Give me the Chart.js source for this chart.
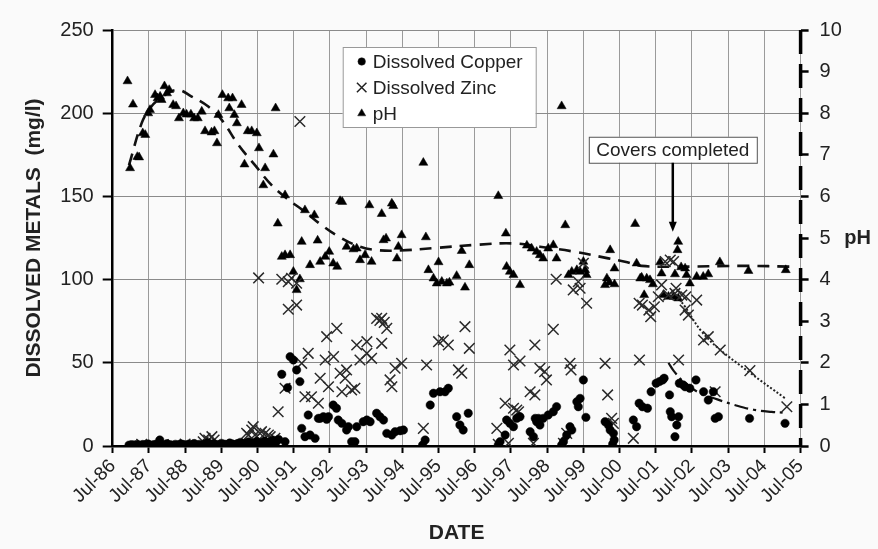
<!DOCTYPE html>
<html>
<head>
<meta charset="utf-8">
<script src="https://cdn.jsdelivr.net/npm/chart.js@4.4.1/dist/chart.umd.min.js"></script>
<style>
body { margin: 0; background: #fafafa; }
#wrap { width: 878px; height: 549px; }
</style>
</head>
<body>
<div id="wrap"><canvas id="metals"></canvas></div>
<script>
const tickLabels = ['Jul-86','Jul-87','Jul-88','Jul-89','Jul-90','Jul-91','Jul-92','Jul-93','Jul-94','Jul-95',
    'Jul-96','Jul-97','Jul-98','Jul-99','Jul-00','Jul-01','Jul-02','Jul-03','Jul-04','Jul-05'];

// dissolved copper (mg/l)
const copperYears = [1986.95,1987.02,1987.1,1987.18,1987.25,1987.33,1987.4,1987.48,1987.55,1987.63,1987.7,1987.8,1987.85,1987.93,
    1988.0,1988.08,1988.15,1988.23,1988.3,1988.38,1988.45,1988.53,1988.6,1988.68,1988.75,1988.83,1988.9,1988.98,
    1989.05,1989.13,1989.2,1989.28,1989.35,1989.43,1989.5,1989.58,1989.65,1989.73,1989.8,1989.88,1989.95,
    1990.03,1990.1,1990.18,1990.25,1990.33,1990.4,1990.48,1990.55,1990.63,1990.7,1990.78,1990.85,1990.93,1991.0,1991.08,
    1991.17,1991.26,1991.33,1991.4,1991.49,1991.58,1991.67,1991.72,1991.81,1991.9,1991.95,1992.09,1992.18,1992.23,1992.32,
    1992.41,1992.46,1992.59,1992.68,1992.73,1992.83,1992.96,1993.01,1993.1,1993.19,1993.24,1993.42,1993.52,1993.61,1993.79,
    1993.88,1993.98,1994.07,1994.21,1994.3,1994.44,1994.53,1995.06,1995.13,1995.27,1995.36,1995.54,1995.68,1995.77,
    1996.0,1996.09,1996.18,1996.32,1997.15,1997.2,1997.34,1997.38,1997.47,1997.57,1997.66,1997.75,
    1998.03,1998.12,1998.17,1998.21,1998.26,1998.3,1998.39,1998.53,1998.67,1998.76,1998.9,1998.95,1999.04,1999.13,1999.18,
    1999.32,1999.36,1999.41,1999.5,1999.57,2000.1,2000.19,2000.24,2000.31,2000.33,2000.35,2000.88,2000.97,
    2001.04,2001.13,2001.27,2001.37,2001.51,2001.6,2001.69,2001.73,2001.88,2001.9,2001.94,2002.03,2002.08,2002.13,
    2002.15,2002.26,2002.31,2002.44,2002.61,2002.82,2002.95,2003.09,2003.14,2003.23,2004.09,2005.07];
const copperValues = [0.5,0.8,0.6,1.0,0.4,0.9,0.7,1.2,0.5,0.8,1.1,3.6,1.0,0.6,
    1.4,0.8,0.5,1.0,0.7,1.3,0.9,0.6,1.1,0.8,1.5,0.7,1.0,0.5,
    1.2,2.0,0.8,1.4,1.0,0.7,1.6,1.1,0.9,1.8,1.3,0.8,1.5,
    2.2,1.0,1.7,2.5,1.2,1.9,2.8,1.5,2.1,3.0,1.6,2.4,3.5,2.0,4.0,
    43.1,2.6,35.0,53.7,51.7,45.7,38.7,10.6,5.6,18.6,6.6,4.6,16.6,16.6,17.6,
    16.0,17.6,24.6,22.7,15.6,13.6,9.6,11.6,2.6,2.6,11.6,14.6,15.6,14.6,19.7,
    17.6,15.6,7.6,6.6,8.6,9.2,9.6,0.6,3.6,24.6,31.7,32.6,32.6,34.7,
    17.6,12.6,9.6,19.7,0.6,2.6,6.6,15.6,13.6,11.6,16.6,17.6,
    8.6,5.6,16.6,14.6,16.6,12.6,16.6,18.6,20.6,23.6,0.6,2.6,6.6,11.6,9.6,
    26.6,23.6,28.6,39.7,17.2,14.6,12.6,9.6,1.2,7.6,3.6,15.6,11.6,
    25.7,23.6,22.7,32.6,37.7,38.7,39.7,40.7,30.7,20.6,17.6,5.6,12.6,17.6,
    37.7,36.7,35.6,34.7,39.7,32.6,27.6,32.6,16.6,17.6,16.6,13.6];

// dissolved zinc (mg/l)
const zincYears = [1987.3,1987.9,1988.5,1989.0,1989.05,1989.15,1989.24,1989.3,1990.2,1990.25,1990.34,1990.38,1990.43,1990.57,
    1990.61,1990.71,1990.8,1990.85,1990.98,1991.07,1991.26,1990.53,1991.17,1991.35,1991.44,1991.58,1991.35,1991.58,1991.67,
    1991.72,1991.9,1991.81,1991.99,1992.18,1992.23,1992.46,1992.41,1992.69,1992.37,1992.6,1992.78,1992.96,1992.92,1992.83,
    1993.1,1993.19,1993.24,1993.52,1993.33,1993.52,1993.65,1993.79,1993.88,1993.93,1994.0,1994.07,1993.93,1994.16,1994.3,
    1994.48,1994.21,1995.08,1995.17,1995.5,1995.63,1995.77,1996.05,1996.14,1996.23,1996.35,1997.11,1997.15,1997.34,1997.43,
    1997.47,1997.57,1997.57,1997.66,1997.71,1997.75,1998.03,1998.12,1998.16,1998.16,1998.3,1998.43,1998.48,1998.67,1998.75,
    1998.95,1999.04,1999.13,1999.16,1999.22,1999.36,1999.41,1999.5,1999.59,2000.1,2000.17,2000.28,2000.33,2000.88,
    2001.04,2001.05,2001.13,2001.31,2001.36,2001.46,2001.57,2001.66,2001.76,2001.85,2001.9,2001.99,2002.03,2002.06,2002.13,
    2002.22,2002.31,2002.4,2002.33,2002.63,2002.82,2002.95,2003.14,2003.28,2004.1,2005.12];
const zincValues = [1.0,0.8,1.2,2.5,4.6,3.6,5.6,3.6,7.6,6.6,9.6,11.6,6.6,7.6,
    8.6,7.6,6.6,5.6,4.6,20.6,34.7,101,100.2,98.7,100.8,97.8,82.2,84.7,195,
    49.7,55.7,29.6,29.6,25.7,40.7,35.6,65.7,70.7,51.7,53.7,43.7,45.7,40.7,32.6,
    33.7,34.7,60.7,62.7,51.7,55.7,52.7,76.7,75.5,76.7,74.3,70.7,61.7,39.7,46.7,
    49.7,35.6,10.6,48.7,62.7,63.7,60.7,45.7,43.7,71.7,58.7,10.6,1.0,25.7,1.6,
    57.7,48.7,22.7,21.6,20.6,51.1,32.6,1.6,30.7,60.7,46.7,44.7,39.7,70.1,100.2,
    1.6,7.6,49.7,45.7,93.8,98.7,94.8,109.8,85.8,49.7,30.7,16.6,13.6,4.6,
    85.8,51.7,84.7,81.7,77.7,83.7,89.7,96.8,110.8,90.7,111.8,110.8,91.7,94.8,51.7,
    90.7,81.7,78.7,89.7,87.7,63.7,65.7,32.6,57.7,45.3,23.6];

// pH (right axis)
const phYears = [1986.91,1986.98,1987.06,1987.18,1987.23,1987.33,1987.4,1987.48,1987.53,1987.67,1987.74,1987.81,1987.85,1987.93,
    1988.0,1988.06,1988.17,1988.25,1988.33,1988.45,1988.54,1988.66,1988.75,1988.85,1988.96,1989.05,1989.23,1989.31,1989.38,
    1989.42,1989.53,1989.69,1989.72,1989.81,1989.86,1989.93,1990.06,1990.14,1990.23,1990.34,1990.48,1990.54,1990.66,1990.71,
    1990.94,1991.0,1991.06,1991.17,1991.26,1991.26,1991.4,1991.49,1991.58,1991.67,1991.72,1991.81,1991.95,1992.07,1992.16,
    1992.23,1992.37,1992.48,1992.59,1992.7,1992.78,1992.84,1992.96,1993.15,1993.24,1993.33,1993.47,1993.59,1993.65,1993.93,
    1993.98,1994.05,1994.21,1994.25,1994.35,1994.39,1994.48,1995.08,1995.15,1995.22,1995.36,1995.45,1995.5,1995.59,1995.73,
    1995.8,1996.0,1996.14,1996.23,1996.35,1997.15,1997.36,1997.38,1997.47,1997.57,1997.75,1997.94,1998.07,1998.21,1998.3,
    1998.39,1998.53,1998.67,1998.76,1998.9,1999.0,1999.09,1999.18,1999.32,1999.41,1999.5,1999.55,1999.59,2000.1,2000.15,
    2000.22,2000.24,2000.36,2000.36,2000.93,2000.97,2001.07,2001.11,2001.18,2001.25,2001.34,2001.42,2001.62,2001.66,2001.71,
    2001.85,2001.99,2002.03,2002.1,2002.12,2002.12,2002.2,2002.31,2002.35,2002.44,2002.63,2002.81,2002.95,2003.27,2004.06,2005.09];
const phValues = [8.77,6.68,8.21,6.95,6.94,7.52,7.48,8.0,8.08,8.44,8.36,8.4,8.32,8.65,
    8.48,8.56,8.2,8.17,7.88,8.0,7.97,7.97,7.88,7.88,8.04,7.57,7.54,7.57,7.28,
    7.96,8.44,8.36,8.12,8.36,7.96,7.76,8.2,6.77,7.57,7.57,7.52,7.16,6.27,6.68,
    7.01,8.12,5.35,4.55,6.03,4.59,4.59,4.19,3.75,4.01,4.91,5.67,4.35,5.55,4.94,
    4.43,4.55,4.67,4.39,4.31,5.89,5.87,4.79,4.73,4.75,4.47,4.59,5.79,4.43,5.58,
    4.95,4.99,5.83,5.77,4.51,4.79,5.07,6.81,5.02,4.23,4.03,3.91,4.42,3.95,3.91,
    3.93,4.09,4.69,3.81,4.35,6.01,5.11,4.31,4.19,4.11,3.87,4.82,4.75,4.67,4.59,
    4.51,4.75,4.83,4.51,8.17,5.31,4.11,4.19,4.23,4.19,4.43,4.23,4.11,3.87,4.03,
    3.93,4.71,4.27,3.89,5.34,4.39,4.03,4.05,3.63,4.03,3.99,3.89,4.42,4.15,3.63,
    3.59,3.59,4.13,4.71,4.91,3.55,4.3,4.27,4.11,3.91,4.07,4.07,4.13,4.42,4.21,4.23];

// trend lines
const phTrendYears = [1986.95,1987.3,1987.53,1987.8,1988.27,1988.68,1989.14,1989.51,1989.97,1990.43,1990.89,1991.31,1991.81,
    1992.27,1992.75,1993.33,1993.79,1994.44,1995.4,1996.6,1997.57,1998.3,1999.25,2000.19,2000.65,2001.11,2002.03,2003.88,2005.35];
const phTrendValues = [6.75,7.76,8.12,8.35,8.56,8.4,8.16,7.84,7.24,6.75,6.27,5.95,5.63,
    5.31,5.03,4.79,4.71,4.7,4.76,4.84,4.87,4.79,4.67,4.51,4.43,4.33,4.31,4.33,4.31];
const zincTrendYears = [2002.08,2002.31,2002.45,2002.77,2003.23,2004.06,2005.07];
const zincTrendValues = [90,83.7,78.7,68.7,58.7,44.7,28.7];
const copperTrendYears = [2001.85,2002.0,2002.3,2002.7,2003.2,2003.7,2004.2,2004.7,2005.1];
const copperTrendValues = [50,45,38,32,28,24.5,21.8,20.5,20];

const coversYear = 2001.97;
const coversPH = 5.15;

const pts = (xs, ys) => xs.map((x, i) => ({ x: x, y: ys[i] }));
const FONT = "'Liberation Sans', Arial, sans-serif";
Chart.defaults.font.family = FONT;
Chart.defaults.color = '#222';

const extras = {
    id: 'extras',
    afterDraw(chart) {
        const ctx = chart.ctx;
        const a = chart.chartArea;
        const xs = chart.scales.x, y2 = chart.scales.y2;
        ctx.save();
        // dashed right axis
        ctx.strokeStyle = '#000';
        ctx.lineWidth = 3.5;
        ctx.setLineDash([24, 10]);
        ctx.beginPath();
        ctx.moveTo(a.right, a.top);
        ctx.lineTo(a.right, a.bottom);
        ctx.stroke();
        ctx.setLineDash([]);

        // pH title
        ctx.fillStyle = '#222';
        ctx.font = 'bold 20px ' + FONT;
        ctx.textAlign = 'center';
        ctx.textBaseline = 'middle';
        ctx.fillText('pH', a.right + 57, (a.top + a.bottom) / 2);

        // legend
        const lx = a.left + 230, ly = a.top + 17;
        ctx.fillStyle = '#fff';
        ctx.fillRect(lx, ly, 193, 80);
        ctx.strokeStyle = '#999';
        ctx.lineWidth = 1;
        ctx.strokeRect(lx + 0.5, ly + 0.5, 193, 80);
        ctx.font = '19px ' + FONT;
        ctx.textAlign = 'left';
        [0, 1, 2].forEach(i => {
            const ds = chart.data.datasets[i];
            const cy = ly + 14.5 + i * 26;
            ctx.fillStyle = '#000';
            ctx.strokeStyle = '#222';
            ctx.lineWidth = ds.borderWidth;
            Chart.helpers.drawPoint(ctx, { pointStyle: ds.pointStyle, radius: ds.pointRadius * 0.9, rotation: 0, borderWidth: ds.borderWidth }, lx + 19, cy);
            ctx.fillStyle = '#222';
            ctx.fillText(ds.label, lx + 30, cy + 1);
        });

        // covers completed annotation
        const ax = xs.getPixelForValue(coversYear);
        const tip = y2.getPixelForValue(coversPH);
        const bw = 168, bh = 26, by = tip - 95;
        ctx.fillStyle = '#fff';
        ctx.fillRect(ax - bw / 2, by, bw, bh);
        ctx.strokeStyle = '#555';
        ctx.lineWidth = 1;
        ctx.strokeRect(ax - bw / 2 + 0.5, by + 0.5, bw, bh);
        ctx.fillStyle = '#222';
        ctx.textAlign = 'center';
        ctx.fillText('Covers completed', ax, by + bh / 2 + 1);
        ctx.strokeStyle = '#000';
        ctx.lineWidth = 2.5;
        ctx.beginPath();
        ctx.moveTo(ax, by + bh);
        ctx.lineTo(ax, tip - 8);
        ctx.stroke();
        ctx.fillStyle = '#000';
        ctx.beginPath();
        ctx.moveTo(ax - 4, tip - 10);
        ctx.lineTo(ax + 4, tip - 10);
        ctx.lineTo(ax, tip);
        ctx.closePath();
        ctx.fill();
        ctx.restore();
    }
};

const ctx1 = document.getElementById('metals').getContext('2d');
const metalsChart = new Chart(ctx1, {
    type: 'scatter',
    data: {
        datasets: [{
            label: 'Dissolved Copper',
            data: pts(copperYears, copperValues),
            pointStyle: 'circle',
            pointRadius: 4.2,
            backgroundColor: '#000',
            borderColor: '#000',
            borderWidth: 0.5
        }, {
            label: 'Dissolved Zinc',
            data: pts(zincYears, zincValues),
            pointStyle: 'crossRot',
            pointRadius: 7.5,
            borderColor: '#2a2a2a',
            backgroundColor: '#2a2a2a',
            borderWidth: 1.5
        }, {
            label: 'pH',
            data: pts(phYears, phValues),
            yAxisID: 'y2',
            pointStyle: 'triangle',
            pointRadius: 5.2,
            backgroundColor: '#000',
            borderColor: '#000',
            borderWidth: 0.5
        }, {
            label: 'pH trend',
            data: pts(phTrendYears, phTrendValues),
            yAxisID: 'y2',
            showLine: true,
            pointRadius: 0,
            borderColor: '#111',
            borderWidth: 2.6,
            borderDash: [12, 8],
            tension: 0.4
        }, {
            label: 'zinc trend',
            data: pts(zincTrendYears, zincTrendValues),
            showLine: true,
            pointRadius: 0,
            borderColor: '#222',
            borderWidth: 2,
            borderDash: [2, 2],
            tension: 0.4
        }, {
            label: 'copper trend',
            data: pts(copperTrendYears, copperTrendValues),
            showLine: true,
            pointRadius: 0,
            borderColor: '#111',
            borderWidth: 2.2,
            borderDash: [14, 5, 3, 5],
            tension: 0.4
        }]
    },
    options: {
        responsive: true,
        maintainAspectRatio: false,
        animation: false,
        layout: { padding: { top: 30, left: 0, right: 0, bottom: 0 } },
        plugins: {
            legend: { display: false },
            tooltip: { enabled: false }
        },
        scales: {
            x: {
                type: 'linear',
                min: 1986.5,
                max: 2005.5,
                afterBuildTicks: s => { s.ticks = tickLabels.map((t, i) => ({ value: 1986.5 + i })); },
                afterFit: s => { s.height = 103; },
                ticks: {
                    autoSkip: false,
                    minRotation: 45,
                    maxRotation: 45,
                    padding: 2,
                    color: '#222',
                    font: { size: 19 },
                    callback: (v, i) => tickLabels[i]
                },
                grid: { color: '#9a9a9a', lineWidth: 1, tickLength: 7, tickColor: '#000', tickWidth: 2 },
                border: { color: '#000', width: 2.5 },
                title: { display: true, text: 'DATE', color: '#222', font: { size: 21, weight: 'bold' }, padding: { top: 0, bottom: 3 } }
            },
            y: {
                position: 'left',
                min: 0,
                max: 250,
                afterFit: s => { s.width = 112.7; },
                ticks: { stepSize: 50, padding: 9, color: '#222', font: { size: 20 } },
                grid: { color: '#8a8a8a', lineWidth: 1, tickLength: 10, tickColor: '#000', tickWidth: 2 },
                border: { color: '#000', width: 2.5 },
                title: { display: true, text: 'DISSOLVED METALS  (mg/l)', color: '#222', font: { size: 21, weight: 'bold' }, padding: { top: 22, bottom: 0 } }
            },
            y2: {
                position: 'right',
                min: 0,
                max: 10,
                afterFit: s => { s.width = 77.4; },
                ticks: { stepSize: 1, padding: 11, color: '#222', font: { size: 20 } },
                grid: { drawOnChartArea: false, tickLength: 8, tickColor: '#000', tickWidth: 2.5 },
                border: { display: false }
            }
        }
    },
    plugins: [extras]
});
</script>
</body>
</html>
